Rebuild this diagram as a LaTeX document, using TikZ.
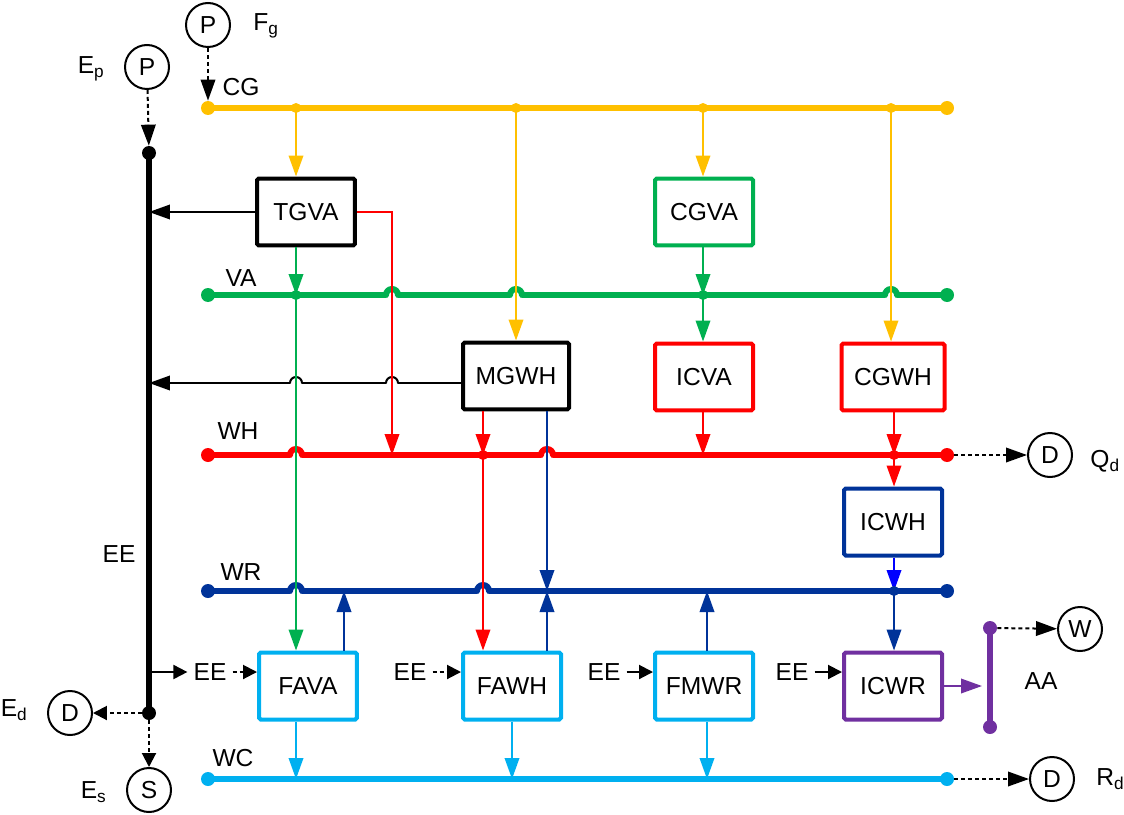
\documentclass[tikz,border=0pt]{standalone}
\usepackage{fontspec}
\setmainfont{Liberation Sans}
\usetikzlibrary{arrows.meta}

\definecolor{cgc}{HTML}{FFC000}
\definecolor{vac}{HTML}{00B050}
\definecolor{whc}{HTML}{FF0000}
\definecolor{wrc}{HTML}{003399}
\definecolor{wcc}{HTML}{00B0F0}
\definecolor{aac}{HTML}{7030A0}
\definecolor{icb}{HTML}{0000FF}

\tikzset{
  bus/.style={line width=0.12cm},
  enddot/.style={circle, fill, inner sep=0pt, minimum size=0.28cm},
  unit/.style={draw, line width=0.08cm, minimum width=1.96cm, minimum height=1.34cm, inner sep=0pt, rounded corners=1pt},
  port/.style={circle, draw, line width=0.04cm, minimum size=0.88cm, inner sep=0pt},
  tag/.style={inner sep=0pt},
  link/.style={line width=0.04cm, -{Triangle[length=0.42cm, width=0.29cm]}},
  smalltip/.style={-{Triangle[length=0.28cm, width=0.28cm]}},
  flow/.style={link, dash pattern=on 0.08cm off 0.06cm},
  hop/.pic={
    \fill[white] (-6,-4) rectangle (6,4);
    \draw[line cap=round] (-6,0) arc[start angle=180, end angle=0, radius=0.12cm];
  },
}

\begin{document}
\begin{tikzpicture}[x=0.02cm, y=-0.02cm, font=\fontsize{14}{16}\selectfont]
  \useasboundingbox (0,0) rectangle (1124,814);

  % columns of the vertical links
  \foreach \nm/\x in {xTG/296, xFV/344, xRD/392, xMR/483, xFW/512, xMY/516, xMB/547, xCV/703, xFM/707, xCY/891, xCW/894}
    \coordinate (\nm) at (\x,0);
  \coordinate (rMG) at (0,383);

  % the five buses
  \foreach \nm/\y/\col in {cg/108/cgc, va/295/vac, wh/455/whc, wr/591/wrc, wc/779/wcc} {
    \node[enddot, \col] (\nm L) at (208,\y) {};
    \node[enddot, \col] (\nm R) at (947,\y) {};
    \draw[bus, \col] (\nm L.center) -- (\nm R.center);
  }

  % electricity bar and the AA bar
  \node[enddot] (eeTop) at (149,153) {};
  \node[enddot] (eeBot) at (149,713) {};
  \draw[bus] (eeTop.center) -- (eeBot.center);
  \node[enddot, aac] (aaTop) at (990,628) {};
  \node[enddot, aac] (aaBot) at (990,727) {};
  \draw[bus, aac] (aaTop.center) -- (aaBot.center);

  % bus names
  \node[tag] (lCG) at (241,87) {CG};
  \node[tag] (lVA) at (241,278) {VA};
  \node[tag] (lWH) at (238,431) {WH};
  \node[tag] (lWR) at (241,572) {WR};
  \node[tag] (lWC) at (233,758) {WC};
  \node[tag] (lEE) at (119,554) {EE};
  \node[tag] (lAA) at (1041,681) {AA};

  % units
  \node[unit] (tgva) at (306,212) {TGVA};
  \node[unit, draw=vac] (cgva) at (704,212) {CGVA};
  \node[unit, minimum width=2.12cm] (mgwh) at (516,376) {MGWH};
  \node[unit, draw=whc] (icva) at (704,377) {ICVA};
  \node[unit, draw=whc, minimum width=2.06cm] (cgwh) at (893,377) {CGWH};
  \node[unit, draw=wrc] (icwh) at (893,522) {ICWH};
  \foreach \nm/\x/\t in {fava/308/FAVA, fawh/512/FAWH, fmwr/704/FMWR}
    \node[unit, draw=wcc] (\nm) at (\x,686) {\t};
  \node[unit, draw=aac] (icwr) at (893,686) {ICWR};

  % sources and sinks
  \node[port] (pFg) at (208,25) {P};
  \node[port] (pEp) at (147,67) {P};
  \node[port] (dQd) at (1050,455) {D};
  \node[port] (wAA) at (1080,629) {W};
  \node[port] (dRd) at (1052,779) {D};
  \node[port] (dEd) at (70,713) {D};
  \node[port] (sEs) at (149,790) {S};
  \node[tag, anchor=west] (lFg) at (253,26) {F\textsubscript{g}};
  \node[tag, anchor=east] (lEp) at (105,69) {E\textsubscript{p}};
  \node[tag, anchor=west] (lQd) at (1090,461) {Q\textsubscript{d}};
  \node[tag, anchor=west] (lRd) at (1096,779) {R\textsubscript{d}};
  \node[tag, anchor=east] (lEd) at (28,710) {E\textsubscript{d}};
  \node[tag, anchor=east] (lEs) at (107,792) {E\textsubscript{s}};

  % electricity inputs
  \foreach \nm/\x in {in1/210, in2/410, in3/604, in4/792}
    \node (\nm) at (\x,672) {EE};

  % black links to the electricity bar
  \draw[link] (tgva.west) -- (tgva.west -| eeTop);
  \draw[link] (mgwh.west |- rMG) -- (eeTop |- rMG);

  % hops where a link passes without joining
  \foreach \cx in {xRD, xMY, xCY} \pic[vac, line width=0.12cm] at (\cx |- vaL) {hop};
  \foreach \cx in {xTG, xMB} \pic[whc, line width=0.12cm] at (\cx |- whL) {hop};
  \foreach \cx in {xTG, xMR} \pic[wrc, line width=0.12cm] at (\cx |- wrL) {hop};
  \foreach \cx in {xTG, xRD} \pic[black, line width=0.04cm] at (\cx |- rMG) {hop};

  % gas taps
  \foreach \cx/\bx in {xTG/tgva, xMY/mgwh, xCV/cgva, xCY/cgwh} {
    \fill[cgc] (\cx |- cgL) circle (0.1cm);
    \draw[link, cgc] (\cx |- cgL) -- (\cx |- \bx.north);
  }
  \draw[flow] (pFg) -- (cgL);
  \draw[flow] (pEp) -- (eeTop);

  % vertical links
  \draw[link, whc] (tgva.east) -| (xRD |- whL);
  \draw[link, vac] (xTG |- tgva.south) -- (xTG |- vaL);
  \draw[link, vac] (xTG |- vaL) -- (xTG |- fava.north);
  \draw[link, vac] (xCV |- cgva.south) -- (xCV |- vaL);
  \draw[link, vac] (xCV |- vaL) -- (xCV |- icva.north);
  \draw[link, whc] (xMR |- mgwh.south) -- (xMR |- whL);
  \draw[link, whc] (xMR |- whL) -- (xMR |- fawh.north);
  \draw[link, wrc] (xMB |- mgwh.south) -- (xMB |- wrL);
  \draw[link, wrc] (xMB |- fawh.north) -- (xMB |- wrL);
  \draw[link, whc] (xCV |- icva.south) -- (xCV |- whL);
  \draw[link, whc] (xCW |- cgwh.south) -- (xCW |- whL);
  \draw[link, whc] (xCW |- whL) -- (xCW |- icwh.north);
  \draw[link, icb] (xCW |- icwh.south) -- (xCW |- wrL);
  \draw[link, wrc] (xCW |- wrL) -- (xCW |- icwr.north);
  \draw[link, wrc] (xFV |- fava.north) -- (xFV |- wrL);
  \draw[link, wrc] (xFM |- fmwr.north) -- (xFM |- wrL);
  \foreach \cx/\bx in {xTG/fava, xFW/fawh, xFM/fmwr}
    \draw[link, wcc] (\cx |- \bx.south) -- (\cx |- wcL);
  \draw[link, aac, shorten >=0.16cm] (icwr.east) -- (icwr.east -| aaTop);

  % junctions
  \foreach \cx/\rw/\col in {xTG/vaL/vac, xCV/vaL/vac, xMR/whL/whc, xCW/whL/whc, xCW/wrL/wrc}
    \fill[\col] (\cx |- \rw) circle (0.1cm);

  % electricity in and out
  \draw[link, smalltip] (eeTop |- in1.west) -- (in1.west);
  \draw[flow, smalltip] (in1) -- (in1 -| fava.west);
  \draw[flow, smalltip] (in2) -- (in2 -| fawh.west);
  \draw[link, smalltip] (in3) -- (in3 -| fmwr.west);
  \draw[link, smalltip] (in4) -- (in4 -| icwr.west);
  \draw[flow, smalltip] (eeBot) -- (dEd);
  \draw[flow, smalltip] (eeBot) -- (sEs);

  % outputs
  \draw[flow] (whR) -- (dQd);
  \draw[flow] (wcR) -- (dRd);
  \draw[flow] (aaTop) -- (wAA);
\end{tikzpicture}
\end{document}
